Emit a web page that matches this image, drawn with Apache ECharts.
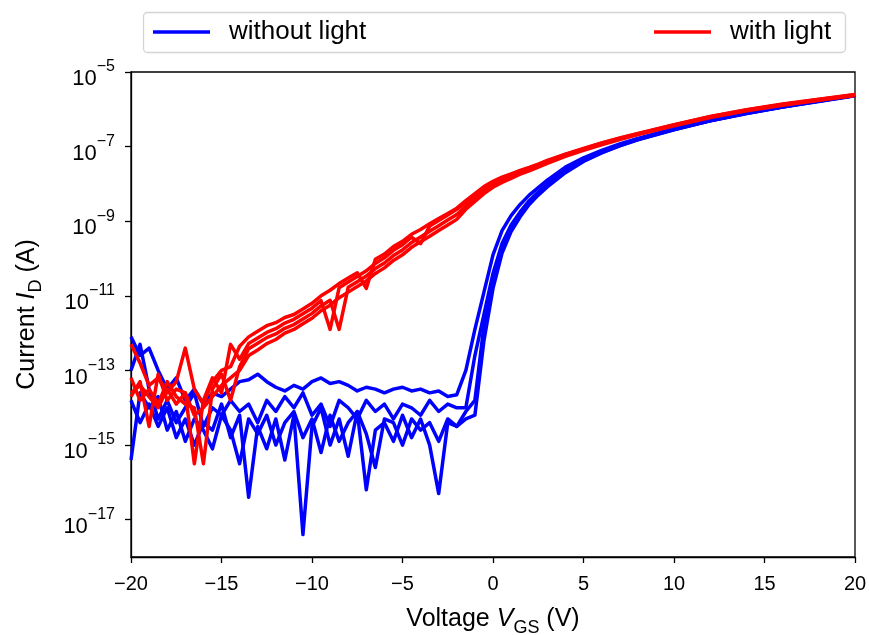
<!DOCTYPE html>
<html>
<head>
<meta charset="utf-8">
<script src="https://cdn.jsdelivr.net/npm/echarts@6/dist/echarts.min.js"></script>
<style>
html,body{margin:0;padding:0;background:#fff;}
#chart{width:869px;height:635px;}
</style>
</head>
<body>
<div id="chart"></div>
<script>
// Voltage grid (V)
const vNoise = [-20,-19.5,-19,-18.5,-18,-17.5,-17,-16.5,-16,-15.5,-15,-14.5,-14,-13.5,-13,-12.5,-12,-11.5,-11,-10.5,-10,-9.5,-9,-8.5,-8,-7.5,-7,-6.5,-6,-5.5,-5,-4.5,-4,-3.5,-3,-2.5,-2];
const vOn = [-1.5,-1,-0.5,0,0.5,1,1.5,2,2.5,3,4,5,6,7,8,10,12,14,16,18,20];

// log10 of drain current I_D (A) — without light (4 sweeps)
const dark1Off = [-12.1,-12.6,-12.4,-13.0,-13.5,-13.2,-13.8,-13.5,-13.9,-13.6,-13.7,-13.5,-13.3,-13.25,-13.1,-13.3,-13.45,-13.55,-13.4,-13.5,-13.3,-13.2,-13.35,-13.3,-13.4,-13.55,-13.45,-13.5,-13.6,-13.5,-13.45,-13.55,-13.5,-13.6,-13.55,-13.7,-13.65];
const dark2Off = [-13.0,-12.3,-13.5,-14.3,-13.8,-14.4,-14.0,-13.6,-14.5,-14.0,-14.2,-13.8,-14.1,-13.9,-14.4,-13.8,-14.1,-13.7,-14.0,-13.6,-14.2,-13.9,-14.5,-13.8,-14.0,-14.3,-13.8,-14.1,-13.9,-14.3,-13.9,-14.0,-14.2,-13.8,-14.1,-13.9,-14.0];
const dark3Off = [-15.4,-13.6,-14.0,-13.7,-14.6,-14.1,-14.9,-14.3,-14.6,-15.1,-14.2,-14.6,-15.5,-14.3,-14.7,-14.2,-15.0,-14.4,-14.1,-14.8,-14.3,-15.2,-14.2,-14.9,-14.4,-14.1,-14.7,-15.6,-14.3,-14.4,-15.0,-14.3,-14.6,-14.4,-14.9,-14.3,-14.5];
const dark4Off = [-13.8,-14.4,-13.9,-14.5,-14.0,-14.8,-14.3,-15.0,-14.4,-14.6,-13.9,-14.8,-14.2,-16.4,-14.5,-15.1,-14.3,-15.4,-14.2,-17.4,-14.5,-14.0,-15.0,-14.3,-15.3,-14.1,-16.2,-14.6,-14.4,-14.9,-14.2,-14.8,-14.3,-15.0,-16.3,-14.4,-14.5];
const dark1On = [-13.0,-11.9,-10.9,-9.9,-9.25,-8.85,-8.55,-8.3,-8.1,-7.9,-7.55,-7.3,-7.1,-6.93,-6.78,-6.52,-6.3,-6.1,-5.93,-5.78,-5.63];
const dark2On = [-14.0,-12.6,-11.5,-10.4,-9.6,-9.1,-8.75,-8.45,-8.22,-8.0,-7.63,-7.36,-7.14,-6.96,-6.8,-6.53,-6.3,-6.1,-5.93,-5.78,-5.63];
const dark3On = [-14.1,-13.8,-11.8,-10.6,-9.75,-9.2,-8.82,-8.5,-8.26,-8.04,-7.66,-7.38,-7.16,-6.97,-6.81,-6.54,-6.31,-6.11,-5.94,-5.78,-5.63];
const dark4On = [-14.3,-14.2,-12.2,-10.8,-9.85,-9.28,-8.88,-8.55,-8.3,-8.08,-7.7,-7.4,-7.17,-6.98,-6.82,-6.55,-6.31,-6.11,-5.94,-5.79,-5.64];

// log10 of drain current I_D (A) — with light (4 sweeps)
const light1 = [-12.3,-12.8,-13.4,-13.2,-13.6,-13.3,-12.4,-13.5,-13.9,-13.3,-13.0,-12.9,-12.35,
  -12.1,-11.95,-11.8,-11.72,-11.58,-11.5,-11.35,-11.2,-11.0,-10.85,-10.67,-10.52,-10.38,-10.8,-10.02,-9.88,-9.68,-9.54,-9.35,-9.22,-9.07,-8.93,-8.79,-8.65,
  -8.45,-8.26,-8.07,-7.93,-7.82,-7.73,-7.64,-7.56,-7.47,-7.37,-7.2,-7.05,-6.9,-6.77,-6.65,-6.41,-6.19,-6.01,-5.86,-5.73,-5.6];
const light2 = [-13.7,-13.3,-14.5,-13.1,-13.8,-13.5,-13.6,-15.5,-13.8,-13.2,-13.6,-12.3,-12.7,
  -12.28,-12.13,-11.98,-11.88,-11.73,-11.63,-11.48,-11.33,-11.13,-11.9,-10.78,-10.63,-10.48,-10.33,-10.13,-9.98,-9.78,-9.63,-9.43,-9.6,-9.13,-8.98,-8.83,-8.68,
  -8.5,-8.31,-8.12,-7.97,-7.86,-7.76,-7.66,-7.58,-7.49,-7.39,-7.21,-7.06,-6.91,-6.78,-6.66,-6.42,-6.2,-6.02,-5.87,-5.74,-5.61];
const light3 = [-13.2,-13.8,-13.5,-13.9,-13.3,-13.7,-13.9,-14.0,-15.5,-13.5,-13.1,-13.8,-12.9,
  -12.42,-12.27,-12.12,-12.02,-11.87,-11.77,-11.62,-11.47,-11.27,-11.12,-11.9,-10.77,-10.62,-10.47,-10.27,-10.12,-9.92,-9.77,-9.57,-9.42,-9.27,-9.12,-8.97,-8.82,
  -8.6,-8.4,-8.19,-8.04,-7.91,-7.81,-7.7,-7.62,-7.52,-7.42,-7.24,-7.08,-6.93,-6.79,-6.67,-6.43,-6.21,-6.03,-5.88,-5.75,-5.62];
const light4 = [-13.6,-13.4,-13.7,-14.0,-13.5,-13.9,-13.6,-14.2,-14.0,-13.7,-13.4,-13.2,-13.0,
  -12.6,-12.45,-12.28,-12.17,-12.0,-11.9,-11.75,-11.6,-11.4,-11.25,-11.05,-10.9,-10.75,-10.6,-10.4,-10.25,-10.05,-9.9,-9.7,-9.55,-9.4,-9.25,-9.1,-8.95,
  -8.68,-8.47,-8.26,-8.09,-7.96,-7.85,-7.74,-7.65,-7.55,-7.45,-7.26,-7.1,-6.95,-6.81,-6.68,-6.44,-6.22,-6.04,-5.89,-5.76,-5.63];

// Tick values
const xTicks = [-20,-15,-10,-5,0,5,10,15,20];
const yTickExps = [-17,-15,-13,-11,-9,-7,-5];

const vAll = vNoise.concat(vOn);
const toPts = (logs) => vAll.map((v, i) => [v, Math.pow(10, logs[i])]);

const FONT = 'Liberation Sans, Arial, sans-serif';
const BLUE = '#0000ff', RED = '#ff0000';

function mk(name, color, logs) {
  return {
    name: name, type: 'line', data: toPts(logs), symbol: 'none', showSymbol: false,
    lineStyle: { color: color, width: 3.5, join: 'round' }, itemStyle: { color: color },
    emphasis: { disabled: true }, animation: false, clip: true
  };
}

const series = [
  mk('without light', BLUE, dark1Off.concat(dark1On)),
  mk('without light', BLUE, dark2Off.concat(dark2On)),
  mk('without light', BLUE, dark3Off.concat(dark3On)),
  mk('without light', BLUE, dark4Off.concat(dark4On)),
  mk('with light', RED, light1),
  mk('with light', RED, light2),
  mk('with light', RED, light3),
  mk('with light', RED, light4)
];

const yTickVals = yTickExps.map(e => Math.pow(10, e));

const chart = echarts.init(document.getElementById('chart'), null, { renderer: 'canvas' });
chart.setOption({
  animation: false,
  backgroundColor: '#fff',
  textStyle: { fontFamily: FONT },
  grid: { left: 131, right: 14, top: 72, bottom: 78, show: true, borderColor: '#000', borderWidth: 1.3,
    backgroundColor: 'transparent', containLabel: false, outerBoundsMode: 'none' },
  graphic: [{
    type: 'rect', z: 0, shape: { x: 143.5, y: 12.5, width: 702, height: 40, r: 4 },
    style: { fill: '#fff', stroke: '#d4d4d4', lineWidth: 1.3 }
  }],
  legend: [
    { data: ['without light'], left: 153, top: 19, itemWidth: 57, itemHeight: 3.5, icon: 'rect', z: 10, padding: 0,
      textStyle: { fontSize: 26, color: '#000', fontFamily: FONT, padding: [0, 0, 0, 14] } },
    { data: ['with light'], left: 654, top: 19, itemWidth: 57, itemHeight: 3.5, icon: 'rect', z: 10, padding: 0,
      textStyle: { fontSize: 26, color: '#000', fontFamily: FONT, padding: [0, 0, 0, 14] } }
  ],
  xAxis: {
    type: 'value', min: -20, max: 20, interval: 5,
    axisLine: { show: true, onZero: false, lineStyle: { color: '#000', width: 1.3 } },
    axisTick: { show: true, inside: false, length: 6, lineStyle: { color: '#000', width: 1.3 } },
    splitLine: { show: false },
    axisLabel: { color: '#000', fontSize: 20, fontFamily: FONT, margin: 17,
      formatter: v => (v < 0 ? '\u2212' + Math.abs(v) : String(v)) },
    name: '{t|Voltage }{i|V}{s|GS}{t| (V)}', nameLocation: 'middle', nameGap: 44,
    nameTextStyle: { rich: {
      t: { fontSize: 25, fontFamily: FONT, color: '#000', lineHeight: 36 },
      i: { fontSize: 25, fontFamily: FONT, fontStyle: 'italic', color: '#000', lineHeight: 36 },
      s: { fontSize: 18, fontFamily: FONT, color: '#000', lineHeight: 22, verticalAlign: 'bottom' }
    } }
  },
  yAxis: {
    type: 'log', logBase: 10, min: 1e-18, max: 1e-5,
    axisLine: { show: true, onZero: false, lineStyle: { color: '#000', width: 1.3 } },
    axisTick: { show: true, inside: false, length: 6, lineStyle: { color: '#000', width: 1.3 }, customValues: yTickVals },
    splitLine: { show: false },
    minorTick: { show: false },
    axisLabel: {
      customValues: yTickVals, margin: 16, color: '#000', fontFamily: FONT,
      formatter: v => '{b|10}{s|\u2212' + Math.abs(Math.round(Math.log10(v))) + '}',
      rich: {
        b: { fontSize: 22, fontFamily: FONT, color: '#000', lineHeight: 40 },
        s: { fontSize: 16, fontFamily: FONT, color: '#000', lineHeight: 18, verticalAlign: 'top' }
      },
      padding: [14, 0, 0, 0]
    },
    name: '{t|Current }{i|I}{s|D}{t| (A)}', nameLocation: 'middle', nameGap: 86, nameRotate: 90,
    nameTextStyle: { rich: {
      t: { fontSize: 25, fontFamily: FONT, color: '#000', lineHeight: 36 },
      i: { fontSize: 25, fontFamily: FONT, fontStyle: 'italic', color: '#000', lineHeight: 36 },
      s: { fontSize: 18, fontFamily: FONT, color: '#000', lineHeight: 22, verticalAlign: 'bottom' }
    } }
  },
  series: series
});
</script>
</body>
</html>
